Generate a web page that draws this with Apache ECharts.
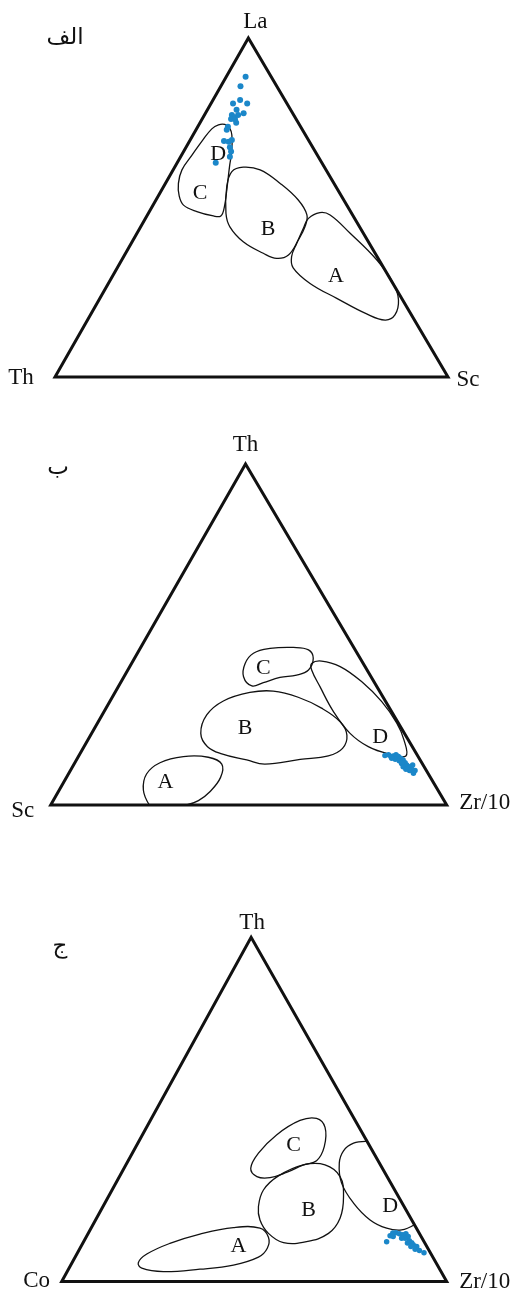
<!DOCTYPE html>
<html>
<head>
<meta charset="utf-8">
<script src="https://cdn.jsdelivr.net/npm/echarts@6/dist/echarts.min.js"></script>
<style>
  html, body { margin: 0; padding: 0; background: #ffffff; }
  #chart { width: 517px; height: 1291px; }
</style>
</head>
<body>
<div id="chart"></div>
<script>
// triangle corners in diagram units: base 0..100, height 0..100
const corners = [[0, 0], [100, 0], [49.2, 100]]

// --- diagram 1: La - Th - Sc ---
const laCorners = ['Th', 'Sc', 'La']
const laFieldCD = [[41.6, 74.4], [43.2, 74.5], [44.5, 73.3], [45.0, 71.4], [45.0, 67.0], [44.4, 62.0], [43.8, 56.1], [43.1, 50.2], [42.2, 47.5], [40.3, 47.5], [36.1, 48.8], [32.7, 50.7], [31.6, 53.4], [31.4, 57.1], [32.3, 61.1], [34.9, 65.5], [37.4, 69.6], [39.9, 73.2]]
const laFieldB = [[45.0, 60.6], [47.9, 61.9], [52.2, 61.1], [57.3, 57.1], [61.9, 52.2], [64.1, 47.8], [63.6, 44.3], [61.9, 40.4], [59.4, 36.0], [56.4, 35.0], [53.0, 36.5], [47.9, 39.9], [44.5, 44.3], [43.5, 48.3], [43.7, 56.1]]
const laFieldA = [[64.5, 46.8], [67.4, 48.5], [70.0, 47.8], [75.1, 42.4], [81.9, 34.5], [86.1, 27.6], [87.4, 22.7], [86.5, 18.3], [84.0, 16.8], [79.3, 18.6], [71.7, 23.2], [64.9, 27.6], [60.6, 32.2], [60.2, 35.5], [61.5, 39.4], [63.2, 43.9]]
const laSamples = [[48.5, 88.6], [47.2, 85.8], [45.3, 80.7], [47.1, 81.7], [48.9, 80.7], [46.2, 78.8], [48.0, 77.8], [45.0, 77.3], [45.6, 76.6], [44.8, 76.1], [46.1, 75.0], [45.8, 76.0], [46.6, 77.3], [43.7, 72.9], [43.0, 69.6], [44.2, 69.4], [45.0, 69.9], [44.5, 67.8], [44.8, 66.5], [44.5, 65.0], [40.9, 63.2], [44.0, 73.8]]
const laFieldNames = ['D', 'C', 'B', 'A']
const laFieldLabels = [[41.5, 65.8], [36.9, 54.3], [54.2, 43.7], [71.5, 29.8]]

// --- diagram 2: Th - Sc - Zr/10 ---
const thCorners = ['Sc', 'Zr/10', 'Th']
const thFieldC = [[49.1, 41.5], [51.2, 44.5], [55.4, 45.9], [61.3, 46.2], [65.1, 45.5], [66.3, 43.0], [65.1, 39.6], [62.1, 38.1], [57.9, 37.4], [53.7, 35.9], [50.8, 34.9], [48.7, 37.6]]
const thFieldD = [[65.9, 41.5], [68.4, 42.2], [73.1, 40.6], [78.5, 36.2], [83.6, 30.3], [87.4, 24.0], [89.2, 19.1], [89.7, 14.4], [85.3, 15.0], [80.2, 17.1], [75.6, 21.0], [71.4, 27.4], [68.0, 34.7], [65.9, 39.6]]
const thFieldB = [[37.9, 21.0], [39.4, 26.4], [43.6, 30.5], [50.3, 33.0], [56.2, 33.4], [62.5, 31.6], [68.4, 28.4], [73.1, 24.4], [74.8, 20.5], [73.7, 16.6], [70.1, 14.4], [63.0, 13.4], [54.1, 12.0], [49.5, 13.2], [43.2, 15.0], [39.6, 17.1]]
const thFieldA = [[24.9, 0], [23.4, 4.4], [24.2, 9.1], [27.6, 12.4], [33.5, 14.2], [39.8, 14.0], [43.2, 12.0], [42.9, 8.1], [40.2, 3.9], [37.3, 1.3], [34.3, 0]]
const thSamples = [[84.4, 14.5], [85.3, 14.7], [85.9, 14.2], [86.5, 14.4], [87.2, 14.7], [87.8, 14.2], [88.4, 13.7], [87.0, 13.4], [88.0, 13.0], [89.0, 13.2], [89.5, 12.4], [88.6, 12.2], [89.9, 11.7], [90.7, 11.2], [91.2, 10.5], [92.0, 10.1], [91.6, 9.3], [90.6, 10.1], [89.0, 11.2], [86.1, 13.7], [89.7, 10.5], [91.4, 11.7]]
const thFieldNames = ['C', 'B', 'D', 'A']
const thFieldLabels = [[53.7, 40.1], [49.1, 22.5], [83.2, 20.0], [29.0, 6.8]]

// --- diagram 3: Th - Co - Zr/10 ---
const coCorners = ['Co', 'Zr/10', 'Th']
const coFieldC = [[49.1, 32.9], [51.1, 37.3], [55.8, 42.6], [61.9, 46.8], [66.2, 47.4], [68.4, 44.8], [68.2, 39.2], [66.2, 35.1], [62.8, 33.9], [58.4, 31.7], [54.1, 30.2], [50.7, 30.5]]
const coFieldB = [[51.1, 21.8], [52.4, 26.6], [56.3, 30.7], [62.8, 33.9], [68.4, 33.9], [72.3, 30.5], [73.2, 24.7], [72.3, 18.4], [69.3, 14.0], [63.6, 11.6], [57.6, 11.3], [53.7, 14.0], [51.5, 17.9]]
const coFieldA = [[19.9, 5.5], [22.1, 8.0], [28.1, 11.1], [35.9, 13.8], [44.6, 15.7], [51.5, 15.5], [53.7, 12.9], [53.4, 9.7], [51.1, 7.1], [44.6, 4.8], [35.9, 3.6], [26.4, 2.9], [20.8, 3.9]]
const coFieldD = [[79.3, 40.7], [75.8, 40.2], [73.2, 38.0], [72.1, 34.4], [72.7, 28.6], [75.8, 22.8], [80.1, 17.9], [84.4, 15.5], [88.3, 15.0], [91.6, 16.5]]
const coSamples = [[84.4, 11.6], [85.3, 13.3], [86.0, 14.1], [86.8, 14.2], [87.7, 13.9], [88.6, 13.6], [89.4, 13.9], [90.0, 13.1], [89.2, 12.6], [88.3, 12.6], [90.3, 11.9], [90.9, 11.3], [89.8, 11.2], [91.3, 10.7], [92.2, 10.2], [91.8, 9.4], [92.9, 9.0], [94.1, 8.4], [90.7, 10.2], [86.1, 13.1]]
const coFieldNames = ['C', 'B', 'D', 'A']
const coFieldLabels = [[60.2, 39.7], [64.1, 20.8], [85.3, 21.8], [45.9, 10.4]]

const diagramTitles = ['الف', 'ب', 'ج']

const serif = 'Liberation Serif'
const dotColor = '#1b87c9'
const ink = '#111111'

const chart = echarts.init(document.getElementById('chart'))

const outline = (idx, points, closed, width) => ({
  type: 'custom',
  xAxisIndex: idx,
  yAxisIndex: idx,
  silent: true,
  data: [0],
  renderItem: (params, api) => ({
    type: closed ? 'polygon' : 'polyline',
    shape: {
      points: points.map((p) => api.coord(p)),
      smooth: width > 2 ? 0 : 0.4,
    },
    style: {
      fill: 'none',
      stroke: ink,
      lineWidth: width,
      lineJoin: 'miter',
    },
  }),
})

const textMarks = (idx, names, positions, size, offsets) => ({
  type: 'scatter',
  xAxisIndex: idx,
  yAxisIndex: idx,
  silent: true,
  symbolSize: 0,
  itemStyle: { opacity: 1 },
  data: names.map((n, i) => ({ name: n, value: positions[i] })),
  label: {
    show: true,
    position: 'inside',
    formatter: '{b}',
    fontFamily: serif,
    fontSize: size,
    color: ink,
    opacity: 1,
  },
  labelLayout: offsets ? (p) => ({ dx: offsets[p.dataIndex][0], dy: offsets[p.dataIndex][1] }) : undefined,
})

const samples = (idx, points, size) => ({
  type: 'scatter',
  xAxisIndex: idx,
  yAxisIndex: idx,
  silent: true,
  symbolSize: size,
  itemStyle: { color: dotColor, opacity: 1 },
  data: points,
  z: 5,
})

const diagrams = [
  {
    fields: [[laFieldCD, true], [laFieldB, true], [laFieldA, true]],
    names: laFieldNames, labels: laFieldLabels, samples: laSamples, dot: 6,
    corners: laCorners, offsets: [[-34, 1], [20, 3], [7, -16]],
  },
  {
    fields: [[thFieldC, true], [thFieldD, true], [thFieldB, true], [thFieldA, false]],
    names: thFieldNames, labels: thFieldLabels, samples: thSamples, dot: 5.5,
    corners: thCorners, offsets: [[-28, 6], [38, -2], [0, -19]],
  },
  {
    fields: [[coFieldC, true], [coFieldB, true], [coFieldA, true], [coFieldD, false]],
    names: coFieldNames, labels: coFieldLabels, samples: coSamples, dot: 5.5,
    corners: coCorners, offsets: [[-25, -1], [38, 0], [1, -14]],
  },
]

const series = []
diagrams.forEach((d, i) => {
  series.push(outline(i, corners, true, 3))
  d.fields.forEach(([pts, closed]) => series.push(outline(i, pts, closed, 1.3)))
  series.push(textMarks(i, d.names, d.labels, 22))
  series.push(textMarks(i, d.corners, corners, 23, d.offsets))
  series.push(samples(i, d.samples, d.dot))
})

const grids = [
  { left: 55, top: 38, width: 393, height: 339 },
  { left: 50.7, top: 464, width: 396, height: 341 },
  { left: 61.7, top: 937.3, width: 385, height: 344.3 },
]

const titlePos = [[65, 38], [58, 468], [60, 947]]

chart.setOption({
  animation: false,
  grid: grids,
  xAxis: grids.map((g, i) => ({ type: 'value', gridIndex: i, min: 0, max: 100, show: false })),
  yAxis: grids.map((g, i) => ({ type: 'value', gridIndex: i, min: 0, max: 100, show: false })),
  graphic: diagramTitles.map((t, i) => ({
    type: 'text',
    x: titlePos[i][0],
    y: titlePos[i][1],
    style: {
      text: t,
      font: '23px "DejaVu Sans"',
      fill: ink,
      align: 'center',
      verticalAlign: 'middle',
    },
  })),
  series,
})
</script>
</body>
</html>
